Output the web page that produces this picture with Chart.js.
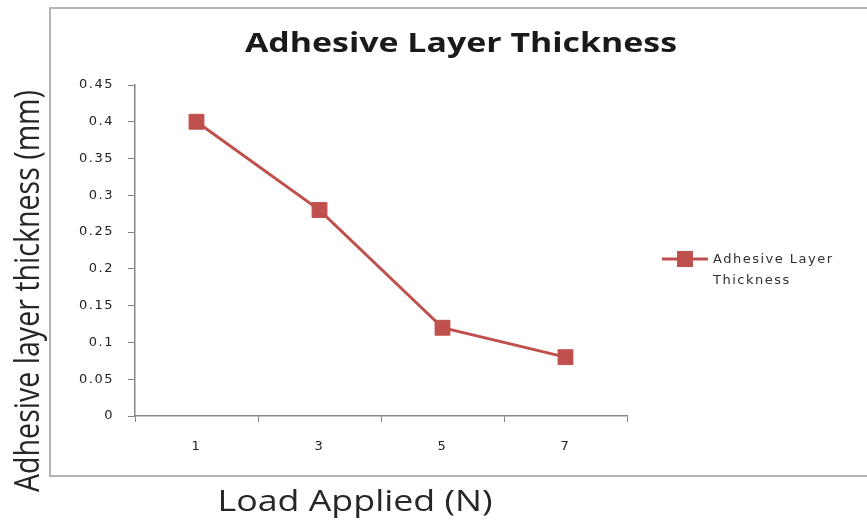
<!DOCTYPE html>
<html>
<head>
<meta charset="utf-8">
<script src="https://cdn.jsdelivr.net/npm/chart.js@4/dist/chart.umd.min.js"></script>
<style>
  body { margin: 0; background: #fff; }
  #chart { display: block; }
</style>
</head>
<body>
<canvas id="chart" width="867" height="521"></canvas>
<script>
const loads = ["1", "3", "5", "7"];
const thickness = [0.4, 0.28, 0.12, 0.08];
const seriesName = "Adhesive Layer Thickness";
const chartTitle = "Adhesive Layer Thickness";
const xTitle = "Load Applied (N)";
const yTitle = "Adhesive layer thickness (mm)";

const red = "#C0504D";
const axisGrey = "#868686";

// draws text centred on (x, y), squeezed/stretched to a given width
function fitText(ctx, text, x, y, w, font) {
    ctx.save();
    ctx.font = font;
    const m = ctx.measureText(text).width;
    ctx.translate(x, y);
    ctx.scale(w / m, 1);
    ctx.textAlign = "center";
    ctx.textBaseline = "middle";
    ctx.fillText(text, 0, 0);
    ctx.restore();
}

const decor = {
    id: "decor",
    beforeDraw(chart) {
        const ctx = chart.ctx;
        ctx.save();
        ctx.fillStyle = "#fff";
        ctx.fillRect(0, 0, chart.width, chart.height);
        // outer frame (open on the right)
        ctx.strokeStyle = "#b4b4b4";
        ctx.lineWidth = 2;
        ctx.beginPath();
        ctx.moveTo(chart.width, 8);
        ctx.lineTo(50, 8);
        ctx.lineTo(50, 476);
        ctx.lineTo(chart.width, 476);
        ctx.stroke();
        ctx.restore();
        ctx.letterSpacing = "1.5px";
    },
    afterDraw(chart) {
        const ctx = chart.ctx;
        ctx.letterSpacing = "0px";
        ctx.save();
        ctx.fillStyle = "#1a1a1a";
        fitText(ctx, chartTitle, 461, 45, 432, "bold 26px 'Open Sans'");
        ctx.fillStyle = "#262626";
        fitText(ctx, xTitle, 355, 502, 275, "30px 'Open Sans'");
        ctx.save();
        ctx.translate(29, 291);
        ctx.rotate(-Math.PI / 2);
        fitText(ctx, yTitle, 0, 0, 402, "35px 'Open Sans'");
        ctx.restore();

        // legend
        const ly = 259;
        ctx.strokeStyle = red;
        ctx.lineWidth = 3;
        ctx.beginPath();
        ctx.moveTo(662, ly);
        ctx.lineTo(708, ly);
        ctx.stroke();
        ctx.fillStyle = red;
        ctx.fillRect(677, ly - 8, 16, 16);
        const cut = seriesName.lastIndexOf(" ");
        const lines = [seriesName.slice(0, cut), seriesName.slice(cut + 1)];
        ctx.fillStyle = "#303030";
        ctx.font = "13px 'DejaVu Sans'";
        ctx.letterSpacing = "1.5px";
        ctx.textAlign = "left";
        ctx.textBaseline = "middle";
        lines.forEach((t, i) => ctx.fillText(t, 713, ly + 1 + i * 21));
        ctx.letterSpacing = "0px";
        ctx.restore();
    }
};

const tickFont = { family: "'DejaVu Sans'", size: 13 };

new Chart(document.getElementById("chart"), {
    type: "line",
    data: {
        labels: loads,
        datasets: [{
            label: seriesName,
            data: thickness,
            borderColor: red,
            backgroundColor: red,
            borderWidth: 3,
            pointStyle: "rect",
            pointRadius: 10.5,
            pointBorderWidth: 1,
            tension: 0
        }]
    },
    options: {
        responsive: false,
        animation: false,
        layout: { padding: { top: 85, right: 240, left: 0, bottom: 0 } },
        plugins: {
            legend: { display: false },
            title: { display: false },
            tooltip: { enabled: false }
        },
        scales: {
            x: {
                offset: true,
                grid: { offset: true, drawOnChartArea: false, tickLength: 6, color: axisGrey },
                border: { color: axisGrey, width: 1.5 },
                ticks: { font: tickFont, color: "#222", padding: 17, maxRotation: 0 },
                afterFit: s => { s.height = 105; }
            },
            y: {
                min: 0,
                max: 0.45,
                grid: { drawOnChartArea: false, tickLength: 7, color: axisGrey },
                border: { color: axisGrey, width: 1.5 },
                ticks: {
                    stepSize: 0.05,
                    font: tickFont,
                    color: "#222",
                    padding: 14,
                    callback: v => String(+v.toFixed(2))
                },
                afterFit: s => { s.width = 135; }
            }
        }
    },
    plugins: [decor]
});
</script>
</body>
</html>
